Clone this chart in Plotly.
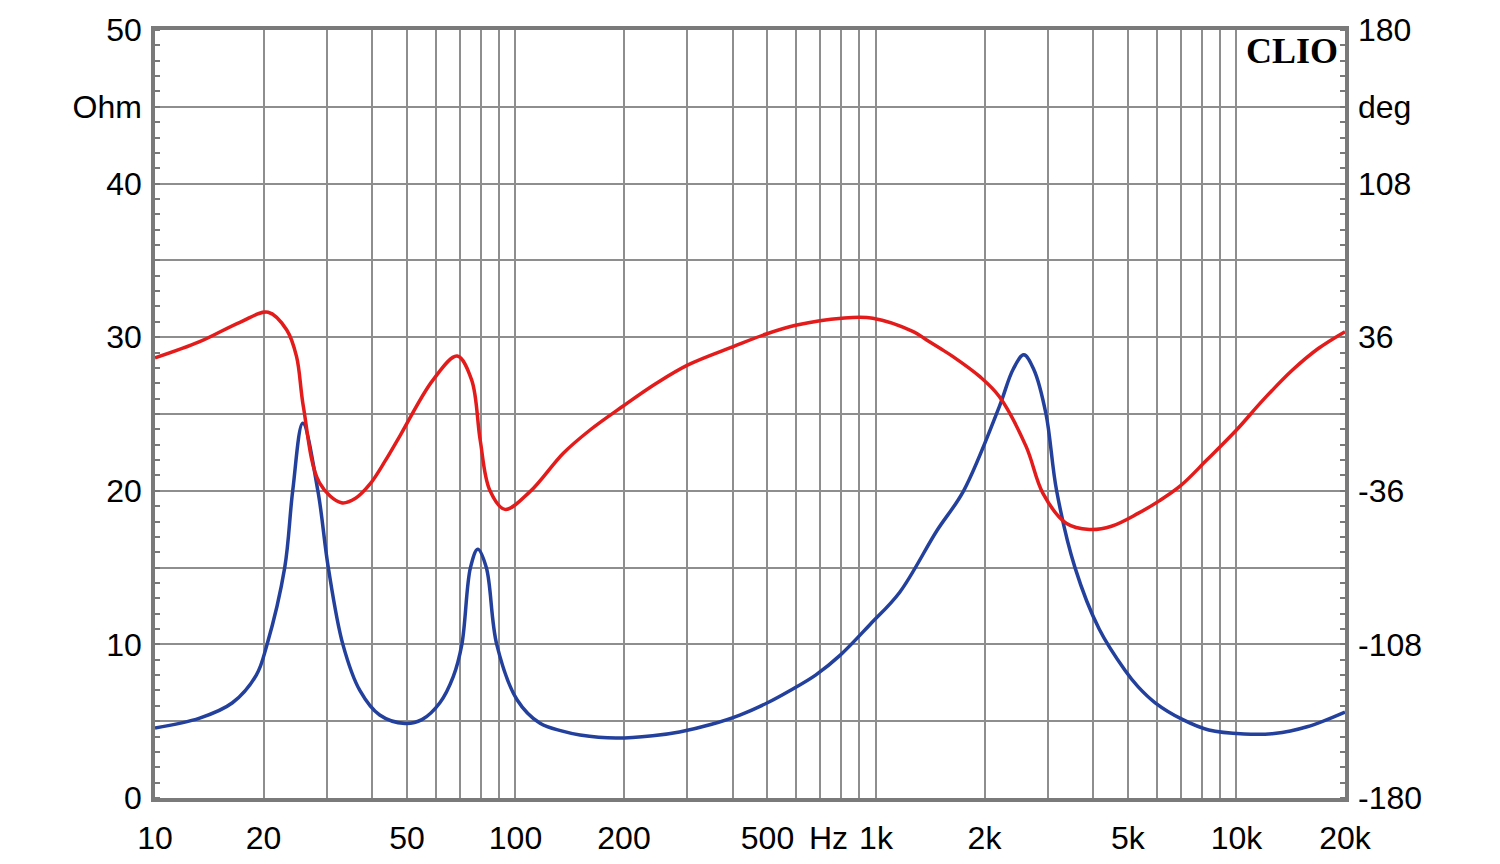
import math
import plotly.graph_objects as go

# Impedance magnitude (Ohm) vs frequency (Hz)
imp_freq = [10, 13.3, 16.4, 19.1, 20.4, 22.9, 24.1, 25.7, 28.3, 30.25, 33.2, 37.0, 42.0,
            49.4, 55, 61.7, 67.2, 71.0, 75.0, 78.6, 83.0, 88.7, 101, 117, 135, 151, 190, 240,
            285, 350, 419, 500, 578, 680, 796, 963, 1164, 1475, 1750, 2200, 2400, 2570, 2740, 2962,
            3170, 3565, 4160, 4910, 5330, 5950, 7100, 8380, 10500, 12720, 15700, 20000]
imp_ohm = [4.56, 5.2, 6.2, 8.0, 9.9, 15.0, 20.0, 24.4, 20.0, 15.0, 10.0, 7.0, 5.4,
           4.85, 5.1, 6.2, 7.9, 10.0, 15.0, 16.2, 15.0, 10.0, 6.4, 4.86, 4.35, 4.1, 3.9, 4.05,
           4.3, 4.8, 5.4, 6.2, 7.0, 8.0, 9.3, 11.3, 13.4, 17.4, 20.0, 25.5, 27.9, 28.85, 27.9, 25.0,
           20.0, 15.0, 11.0, 8.3, 7.25, 6.2, 5.1, 4.43, 4.17, 4.2, 4.64, 5.6]

# Phase (deg) vs frequency (Hz)
ph_freq = [10, 13.3, 17.2, 20.6, 23.2, 24.7, 25.8, 28.6, 32.9, 36.0, 39.5, 43.5, 47.9, 59.0, 68.9,
           75.6, 79.8, 84.8, 93.5, 109.7, 135.7, 161, 199, 246, 301, 402, 496, 603, 804, 980, 1269,
           1382, 1505, 1639, 1942, 2200, 2610, 2905, 3370, 3910, 4500, 5330, 6120, 7000, 8270, 10000,
           11860, 14300, 16900, 20000]
ph_deg = [26.3, 33.9, 43.0, 47.7, 39.4, 26.9, 3.4, -32.3, -41.6, -39.5, -32.8, -22.0, -10.0, 15.9, 27.2,
          15.9, -12.2, -35.6, -44.7, -36.4, -18.4, -7.5, 3.75, 14.4, 23.0, 31.6, 37.5, 41.7, 44.9, 44.9, 38.6,
          34.7, 30.8, 26.8, 17.5, 8.1, -15.3, -37.2, -51.2, -54.1, -52.6, -46.6, -40.6, -33.6, -21.6, -7.5,
          6.6, 20.6, 30.8, 38.6]

# Axis ticks
x_grid = [10, 20, 30, 40, 50, 60, 70, 80, 90, 100, 200, 300, 400, 500, 600, 700, 800, 900,
          1000, 2000, 3000, 4000, 5000, 6000, 7000, 8000, 9000, 10000, 20000]
x_labels = {10: "10", 20: "20", 50: "50", 100: "100", 200: "200", 500: "500", 1000: "1k",
            2000: "2k", 5000: "5k", 10000: "10k", 20000: "20k"}
y_grid = [0, 5, 10, 15, 20, 25, 30, 35, 40, 45, 50]
y_labels = {0: "0", 10: "10", 20: "20", 30: "30", 40: "40", 45: "Ohm", 50: "50"}
y2_grid = [-180, -144, -108, -72, -36, 0, 36, 72, 108, 144, 180]
y2_labels = {-180: "-180", -108: "-108", -36: "-36", 36: "36", 108: "108", 144: "deg", 180: "180"}

GRID = "#8e8e8e"
FRAME = "#7a7a7a"
FONT = "Liberation Sans, Arial, sans-serif"

fig = go.Figure()
fig.add_trace(go.Scatter(x=ph_freq, y=ph_deg, yaxis="y2", mode="lines",
                         line=dict(color="#e31b1b", width=3.5, shape="spline", smoothing=1.0),
                         hoverinfo="skip", showlegend=False))
fig.add_trace(go.Scatter(x=imp_freq, y=imp_ohm, mode="lines",
                         line=dict(color="#22409c", width=3.5, shape="spline", smoothing=1.0),
                         hoverinfo="skip", showlegend=False))

fig.update_layout(
    width=1500, height=864,
    margin=dict(l=155, r=155, t=30, b=66),
    paper_bgcolor="white", plot_bgcolor="white",
    font=dict(family=FONT, size=32, color="black"),
    xaxis=dict(
        type="log", range=[1, math.log10(20000)],
        tickmode="array", tickvals=x_grid,
        ticktext=[x_labels.get(v, "") for v in x_grid],
        showgrid=True, gridcolor=GRID, gridwidth=1.5,
        ticks="", ticklabelstandoff=9, automargin=False,
        showline=True, linecolor=FRAME, linewidth=3.5, mirror=True,
        zeroline=False, fixedrange=True,
    ),
    yaxis=dict(
        range=[0, 50],
        tickmode="array", tickvals=y_grid,
        ticktext=[y_labels.get(v, "") for v in y_grid],
        showgrid=True, gridcolor=GRID, gridwidth=1.5,
        ticks="", ticklabelstandoff=3, automargin=False,
        minor=dict(tickmode="array", tickvals=list(range(0, 51)), ticks="inside",
                   ticklen=5, tickcolor=FRAME, tickwidth=1.5, showgrid=False),
        showline=True, linecolor=FRAME, linewidth=3.5, mirror=True,
        zeroline=False, fixedrange=True,
    ),
    yaxis2=dict(
        range=[-180, 180], overlaying="y", side="right",
        tickmode="array", tickvals=y2_grid,
        ticktext=[y2_labels.get(v, "") for v in y2_grid],
        showgrid=False, ticks="", ticklabelstandoff=12, automargin=False,
        minor=dict(tickmode="array", tickvals=[-180 + 7.2 * i for i in range(51)], ticks="inside",
                   ticklen=5, tickcolor=FRAME, tickwidth=1.5, showgrid=False),
        showline=False, zeroline=False, fixedrange=True,
    ),
    annotations=[
        dict(text="Hz", x=math.log10(736), xref="x", y=0, yref="paper", yanchor="top",
             yshift=-20, showarrow=False, font=dict(family=FONT, size=32, color="black")),
        dict(text="<b>CLIO</b>", x=1, xref="paper", xanchor="right", xshift=-5,
             y=1, yref="paper", yanchor="top", yshift=1, showarrow=False,
             font=dict(family="Liberation Serif, Times New Roman, serif", size=36, color="black")),
    ],
)

fig.write_html("out.html")
